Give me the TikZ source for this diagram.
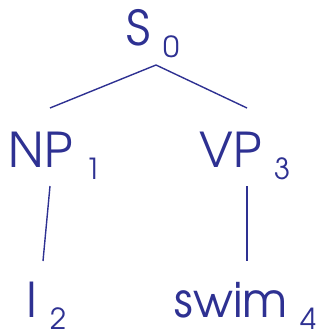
\documentclass[tikz,border=0pt]{standalone}
\usepackage{fontspec}
\setmainfont{texgyreadventor-regular.otf}
\usetikzlibrary{positioning}
\definecolor{treeblue}{RGB}{46,49,146}

% word index, set lowered after a gap
\newcommand{\idx}[1]{\hspace{13pt}\raisebox{-12pt}{\fontsize{29}{29}\selectfont #1}}

\begin{document}
\begin{tikzpicture}[
    % node and branch styles
    x=1pt, y=1pt,
    cat/.style={inner sep=0pt, anchor=base west, text=treeblue, font=\fontsize{48}{48}\selectfont},
    branch/.style={draw=treeblue, line width=1.4pt},
]
\useasboundingbox (0,0) rectangle (321,-331);

% constituents
\node[cat] (s) at (126.6,-46) {S\idx{0}};
\node[cat] (np) at (8.5,-167) {NP\idx{1}};
\node[cat] (vp) at (199.5,-167) {VP\idx{3}};
\node[cat] (i) at (26.5,-317) {I\idx{2}};
\node[cat] (swim) at (174.5,-317) {swim\idx{4}};

% branches
\draw[branch] ([shift={(29.4,-19)}]s.base west) -- ([shift={(41.5,59)}]np.base west);
\draw[branch] ([shift={(29.4,-19)}]s.base west) -- ([shift={(47.5,59)}]vp.base west);
\draw[branch] ([shift={(41.5,-19)}]np.base west) -- ([shift={(16.5,56)}]i.base west);
\draw[branch] ([shift={(47.5,-19)}]vp.base west) -- ([shift={(72.5,56)}]swim.base west);

\end{tikzpicture}
\end{document}
